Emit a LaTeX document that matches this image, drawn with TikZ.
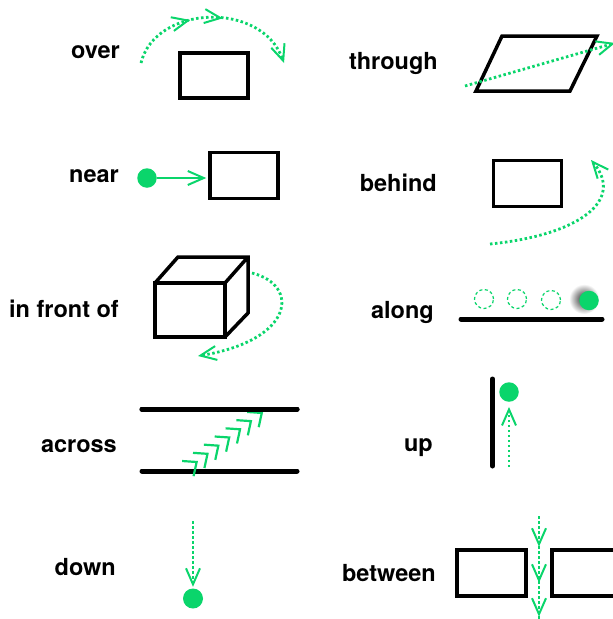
\documentclass[tikz,border=0pt]{standalone}
\usepackage{fontspec}
\setmainfont{TeX Gyre Heros}
\usetikzlibrary{arrows.meta,decorations.markings}
\definecolor{grn}{HTML}{0AD56B}
\tikzset{
  lbl/.style={font=\bfseries\fontsize{23.5}{27}\selectfont, anchor=base east, inner sep=0pt},
  box/.style={draw, line width=3.5pt, minimum width=69pt, minimum height=46pt, inner sep=0pt},
  bar/.style={line width=5pt, line cap=round},
  dotline/.style={grn, line width=2.8pt, dash pattern=on 2.5pt off 2.5pt},
  ball/.style={circle, fill=grn, minimum size=19.5pt, inner sep=0pt},
  ghost/.style={circle, draw=grn, line width=1.2pt, dash pattern=on 3pt off 2.5pt, minimum size=19pt, inner sep=0pt},
  >={Straight Barb[length=16pt,width=14pt,line width=2pt]},
}

\begin{document}
\begin{tikzpicture}[x=1pt, y=-1pt]
  \clip (0,0) rectangle (613,619);

  % left column labels
  \node[lbl] (over) at (120,58) {over};
  \node[lbl] (near) at (119,182.5) {near};
  \node[lbl] (front) at (119,317) {in front of};
  \node[lbl] (across) at (117,452.5) {across};
  \node[lbl] (down) at (116,575) {down};
  % right column labels
  \node[lbl] (through) at (438,69) {through};
  \node[lbl] (behind) at (437,191) {behind};
  \node[lbl] (along) at (434,318) {along};
  \node[lbl] (up) at (433,451) {up};
  \node[lbl] (between) at (436,581) {between};

  % over
  \node[box, minimum width=68pt, minimum height=45pt] (overbox) at (214,75.5) {};
  \coordinate (overA) at (141,63);
  \coordinate (overB) at (284,63);
  \draw[dotline, ->, postaction={decorate}, decoration={markings,
      mark=at position 0.38 with {\arrow{>}}, mark=at position 0.56 with {\arrow{>}}}]
    (overA) .. controls (155,5) and (262,0) .. (overB);

  % near
  \node[ball] (neardot) at (147,178) {};
  \node[box, minimum width=68pt, minimum height=46pt] (nearbox) at (244,175.5) {};
  \draw[grn, line width=2pt, ->, shorten >=2pt] (neardot) -- (neardot -| nearbox.west);

  % in front of
  \draw[line width=3.5pt, line join=miter] (155,283) -- (178,257) -- (248,257) -- (248,313) -- (225,337)
    (225,283) -- (248,257);
  \draw[line width=4.5pt] (155,283) rectangle (225,337);
  \coordinate (frontA) at (252,273);
  \coordinate (frontB) at (198,356);
  \draw[dotline, ->] (frontA) .. controls (300,285) and (295,340) .. (frontB);

  % across
  \draw[bar] (142,409) -- (297,409);
  \draw[bar] (142,471) -- (297,471);
  \coordinate (acrossA) at (186,470);
  \coordinate (acrossB) at (267,409);
  \path[grn, postaction={decorate}, decoration={markings,
      mark=between positions 0.148 and 0.96 step 0.134 with
      {\arrow{Straight Barb[length=11pt,width=19pt,line width=2.2pt]}}}]
    (acrossA) -- (acrossB);
  \draw[bar] (142,409) -- (297,409);

  % down
  \node[ball, minimum size=20pt] (downdot) at (193,598.5) {};
  \coordinate (downA) at (193,521);
  \draw[dotline, ->, shorten >=1.5pt] (downA) -- (downdot.north);

  % through
  \draw[line width=3.5pt, line join=miter] (476,91) -- (502,36) -- (597,36) -- (570,91) -- cycle;
  \coordinate (throughA) at (465,86);
  \coordinate (throughB) at (615,43);
  \draw[dotline, ->] (throughA) -- (throughB);

  % behind
  \node[box, minimum width=68pt, minimum height=46pt] (behindbox) at (527.5,183.5) {};
  \coordinate (behindA) at (490,244);
  \coordinate (behindB) at (591,160);
  \draw[dotline, ->] (behindA) .. controls (580,235) and (625,200) .. (behindB);

  % along
  \node[ghost] (alongA) at (484,299) {};
  \node[ghost] (alongB) at (517,299) {};
  \node[ghost] (alongC) at (551,300) {};
  \shade[inner color=black!85, outer color=white] (584,299) circle (15);
  \node[ball] (alongdot) at (589,300.5) {};
  \draw[bar] (461,319) -- (602,319);

  % up
  \draw[bar] (492.5,379) -- (492.5,466);
  \node[ball] (updot) at (509,392) {};
  \coordinate (upA) at (509,467);
  \draw[dotline, ->, shorten >=5pt] (upA) -- (updot.south);

  % between
  \node[box] (betweenL) at (491.5,573) {};
  \node[box] (betweenR) at (586.5,573) {};
  \coordinate (betweenA) at (539,516);
  \coordinate (betweenB) at (539,622);
  \draw[dotline, postaction={decorate}, decoration={markings,
      mark=at position 0.29 with {\arrow{>}}, mark=at position 0.63 with {\arrow{>}},
      mark=at position 0.95 with {\arrow{>}}}]
    (betweenA) -- (betweenB);
\end{tikzpicture}
\end{document}
